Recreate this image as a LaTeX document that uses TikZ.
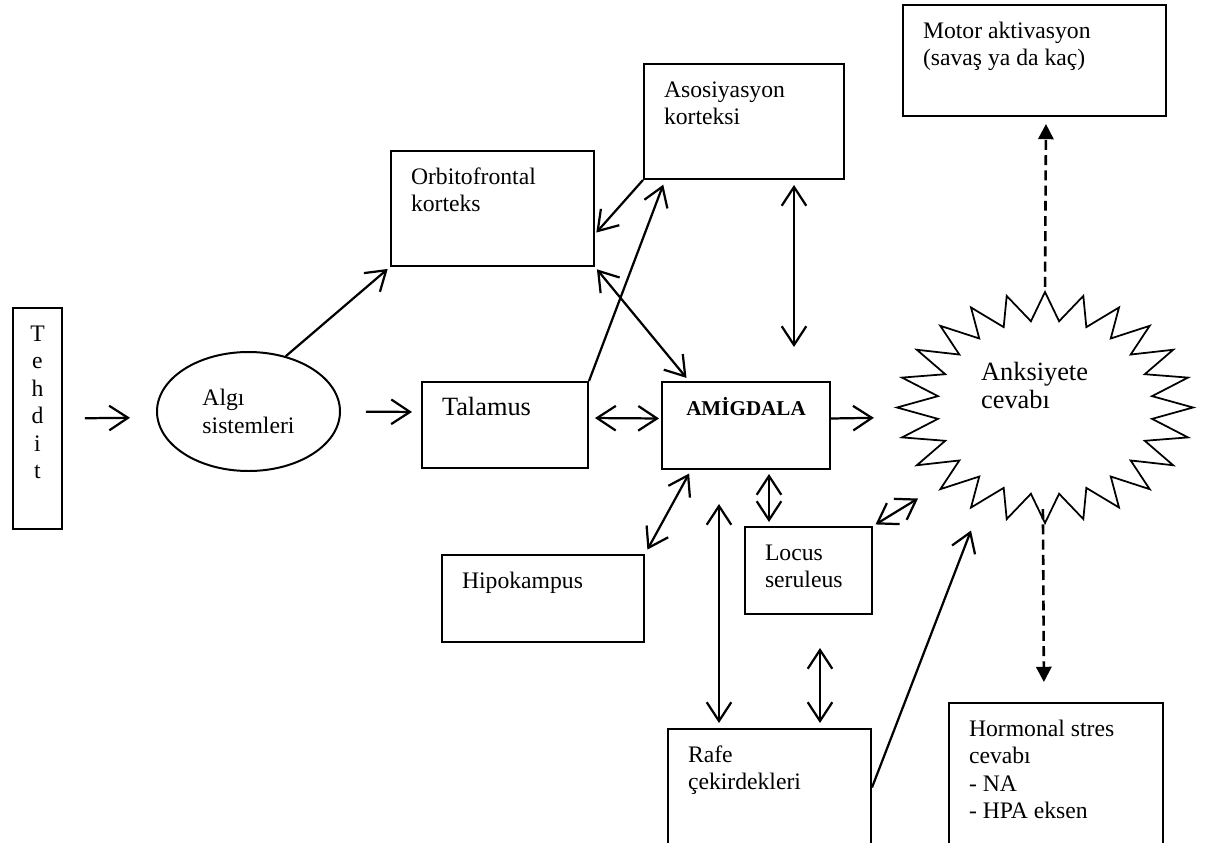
\documentclass[tikz,border=0pt]{standalone}
\usepackage{fontspec}
\setmainfont{Liberation Serif}
\usetikzlibrary{arrows.meta, shapes.geometric, calc}
\definecolor{BLACK}{HTML}{000000}
\newdimen\pxu
\pxu=0.03cm
\newcommand{\normaltext}{\fontsize{20.2}{23.5}\selectfont}
\newcommand{\bigtext}{\fontsize{22.5}{24}\selectfont}
\newcommand{\boldtext}{\fontsize{18}{23.5}\selectfont\bfseries}
\newcommand{\boxlines}[3]{\parbox[c][\dimexpr#2\pxu-28\pxu\relax][t]{\dimexpr#1\pxu-40\pxu\relax}{\raggedright\strut#3}}

\begin{document}
\begin{tikzpicture}[x=0.03cm, y=-0.03cm, line width=1.9pt,
    box/.style={draw, BLACK, line width=1.7pt, anchor=north west, inner xsep=20\pxu, inner ysep=14\pxu, font=\normaltext},
    arr/.style={BLACK, -{Straight Barb[length=16pt,width=21pt]}},
    darr/.style={BLACK, {Straight Barb[length=16pt,width=21pt]}-{Straight Barb[length=16pt,width=21pt]}},
    dasharr/.style={BLACK, line width=2.2pt, dash pattern=on 8.5pt off 4.5pt, -{Triangle[length=13pt,width=13pt]}}]
    \useasboundingbox (0,0) rectangle (1207,843);
    \node[box, inner xsep=0pt] (tehdit) at (12,307) {\parbox[c][193\pxu][t]{49\pxu}{\centering\strut T\\e\\h\\d\\i\\t}};
    \node[draw, BLACK, line width=1.7pt, ellipse, minimum width=183\pxu, minimum height=119\pxu, align=left, font=\normaltext] (algi) at (248.5,411.5) {Algı\\sistemleri};
    \node[box] (orb) at (390,150) {\boxlines{203}{115}{Orbitofrontal\\korteks}};
    \node[box] (aso) at (643,63) {\boxlines{200}{115}{Asosiyasyon\\korteksi}};
    \node[box] (motor) at (902,4) {\boxlines{263}{111}{Motor aktivasyon\\(savaş ya da kaç)}};
    \node[box, font=\bigtext] (tal) at (421,381) {\boxlines{166}{86}{Talamus}};
    \node[box, font=\boldtext] (amig) at (661,381) {\parbox[c][59\pxu][t]{128\pxu}{\centering\strut AMİGDALA}};
    \node[box] (hip) at (441,554) {\boxlines{202}{87}{Hipokampus}};
    \node[box] (loc) at (744,526) {\boxlines{127}{87}{Locus\\seruleus}};
    \node[box] (rafe) at (667,728) {\boxlines{203}{117}{Rafe\\çekirdekleri}};
    \node[box] (horm) at (948,702) {\boxlines{214}{143}{Hormonal stres\\cevabı\\- NA\\- HPA eksen}};
    \node[ellipse, minimum width=296\pxu, minimum height=231\pxu, inner sep=0pt] (burst) at (1045,407.5) {};
    \begin{scope}[shift={(burst.center)}]
        \draw[BLACK, line width=1.5pt] (0:148 and 115.5) \foreach \a in {15,30,...,360} {-- (\a-7.5:108 and 87) -- (\a:148 and 115.5)} -- cycle;
    \end{scope}
    \node[anchor=north west, inner sep=0pt, align=left, font=\bigtext] (ank) at (980,361) {Anksiyete\\cevabı};
    \draw[arr, shorten <=22\pxu, shorten >=26\pxu] (tehdit.east) -- ([yshift=-6\pxu]algi.west);
    \draw[arr, shorten <=25\pxu, shorten >=9\pxu] (algi.east) -- ([yshift=13\pxu]tal.west);
    \draw[arr, shorten >=3\pxu] (algi.56) -- (orb.south west);
    \draw[arr, shorten >=5\pxu] (tal.north east) -- ([xshift=22\pxu]aso.south west);
    \draw[arr, shorten >=2\pxu] (aso.south west) -- (orb.-14);
    \draw[darr, shorten <=3\pxu, shorten >=4\pxu] (orb.south east) -- (amig.142);
    \draw[darr, shorten <=5\pxu, shorten >=34\pxu] ([xshift=151\pxu]aso.south west) -- ([xshift=133\pxu]amig.north west);
    \draw[darr, shorten <=6\pxu, shorten >=2\pxu] ([yshift=7\pxu]tal.east) -- ([yshift=7\pxu]amig.west);
    \draw[arr, shorten >=22\pxu] ([yshift=7\pxu]amig.east) -- ([yshift=-10\pxu]burst.west);
    \draw[darr, shorten <=5\pxu, shorten >=4\pxu] (hip.north east) -- (amig.219);
    \draw[darr, shorten <=5\pxu, shorten >=34\pxu] ([xshift=52\pxu]rafe.north west) -- ([xshift=58\pxu]amig.south west);
    \draw[darr, shorten <=4\pxu, shorten >=4\pxu] ([xshift=25\pxu]loc.north west) -- ([xshift=108\pxu]amig.south west);
    \draw[darr, shorten <=3\pxu] (loc.north east) -- ([xshift=-127\pxu, yshift=-91\pxu]burst.center);
    \draw[darr, shorten <=5\pxu, shorten >=33\pxu] ([xshift=153\pxu]rafe.north west) -- ([xshift=76\pxu]loc.south west);
    \draw[arr] (rafe.east) -- ([xshift=-74\pxu, yshift=-123\pxu]burst.center);
    \draw[dasharr, shorten <=4\pxu, shorten >=7\pxu] (burst.north) -- ([xshift=11.5\pxu]motor.south);
    \draw[dasharr, shorten <=-15\pxu, shorten >=20\pxu] ([xshift=-2\pxu]burst.south) -- ([xshift=-12\pxu]horm.north);
\end{tikzpicture}
\end{document}
